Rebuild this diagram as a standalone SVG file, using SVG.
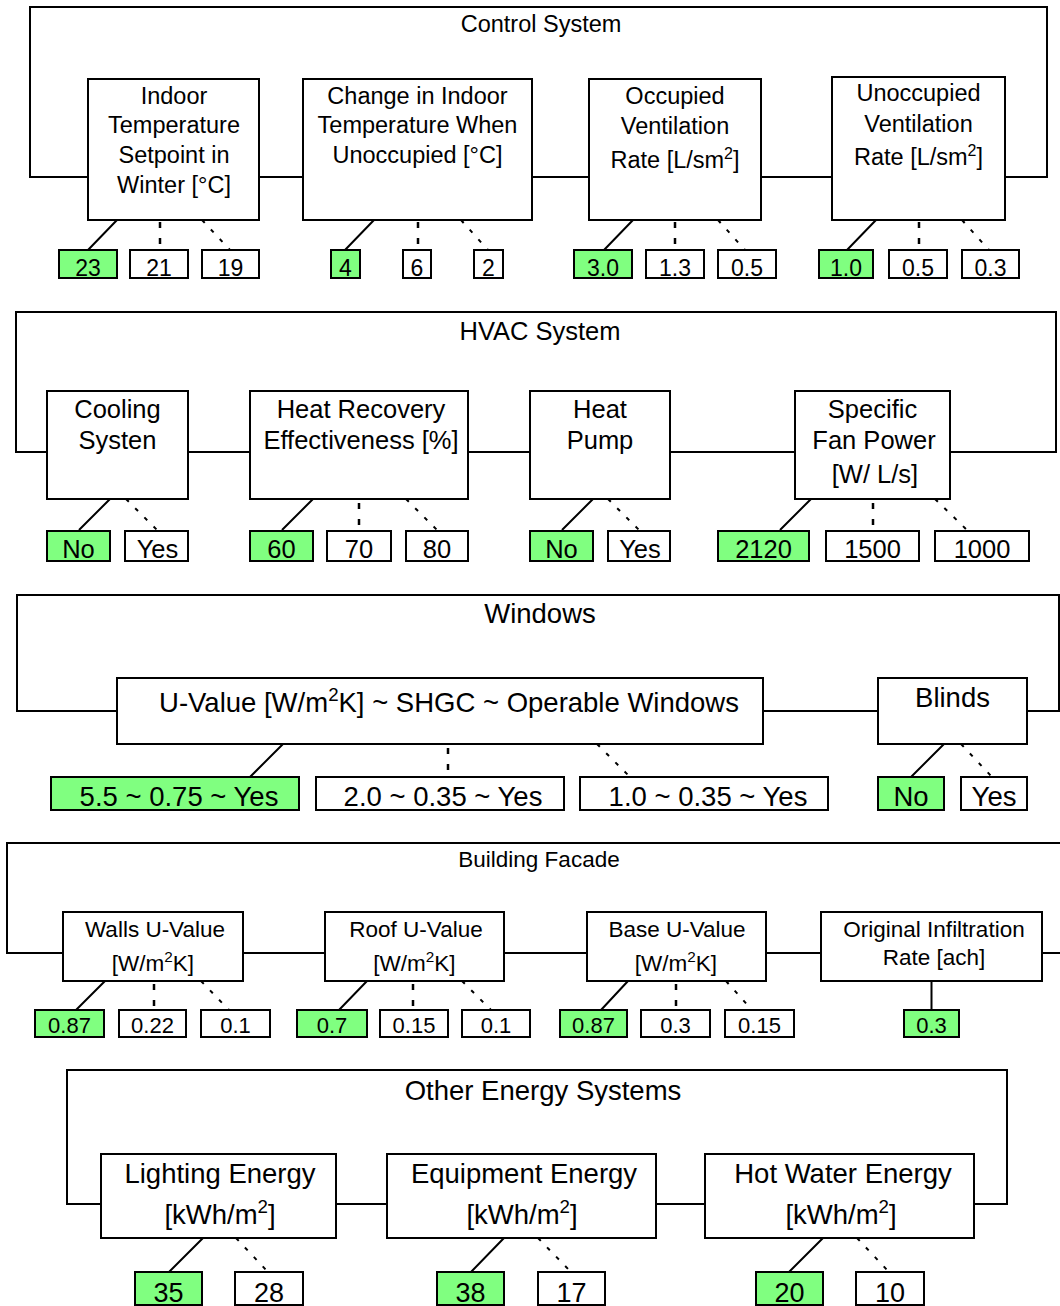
<svg xmlns="http://www.w3.org/2000/svg" width="1060" height="1306" viewBox="0 0 1060 1306">
<style>
.bg{fill:#fff}
.box{fill:#fff;stroke:#000;stroke-width:2}
.sel{fill:#80ff80;stroke:#000;stroke-width:2}
.opt{fill:#fff;stroke:#000;stroke-width:2}
.frame{fill:none;stroke:#000;stroke-width:2}
.solid{fill:none;stroke:#000;stroke-width:2}
.dash{fill:none;stroke:#000;stroke-width:2.5;stroke-dasharray:6 10}
.dot{fill:none;stroke:#000;stroke-width:2;stroke-dasharray:4 9}
.sup{font-size:68%}
text{font-family:"Liberation Sans",Arial,sans-serif;fill:#000;text-anchor:middle}
.t1{font-size:23.5px}
.v1{font-size:23px}
.t2{font-size:25.5px}
.v2{font-size:25.5px}
.t3{font-size:27.5px}
.v3{font-size:27.5px}
.t4{font-size:22.5px}
.v4{font-size:22px}
.t5{font-size:27.5px}
.v5{font-size:27px}
</style>
<rect class="bg" x="0" y="0" width="1060" height="1306"/>

<g id="connectors">
  <!-- Control System -->
  <path class="frame" d="M88,177 H30 V7 H1047 V177 H1005 M259,177 H303 M532,177 H589 M761,177 H832"/>
  <path class="solid" d="M117,220 L88,250 M374,220 L345,250 M633,220 L604,250 M876,220 L847,250"/>
  <path class="dash" d="M160,222 V250 M418,222 V250 M675,222 V250 M919,222 V250"/>
  <path class="dot" d="M202,220 L230,250 M461,220 L488,250 M718,220 L745,250 M962,220 L989,250"/>
  <!-- HVAC -->
  <path class="frame" d="M47,452 H16 V312 H1056 V452 H950 M188,452 H250 M468,452 H530 M670,452 H795"/>
  <path class="solid" d="M110,499 L79,530 M313,499 L282,530 M593,499 L562,530 M811,499 L780,530"/>
  <path class="dash" d="M359,503 V530 M873,503 V530"/>
  <path class="dot" d="M126,499 L157,530 M406,499 L437,530 M608,499 L639,530 M935,499 L967,530"/>
  <!-- Windows -->
  <path class="frame" d="M117,711 H17 V595 H1059 V711 H1027 M763,711 H878"/>
  <path class="solid" d="M283,744 L250,777 M944,744 L911,777"/>
  <path class="dash" d="M448,748 V777"/>
  <path class="dot" d="M597,744 L630,777 M961,744 L992,777"/>
  <!-- Building Facade -->
  <path class="frame" d="M63,953 H7 V843 H1062 V953 H1042 M243,953 H325 M504,953 H587 M766,953 H821"/>
  <path class="solid" d="M105,981 L76,1010 M367,981 L339,1010 M628,981 L601,1010 M931.5,981 V1010"/>
  <path class="dash" d="M154,984 V1010 M413,984 V1010 M676,984 V1010"/>
  <path class="dot" d="M201,981 L229,1010 M462,981 L491,1010 M726,981 L752,1010"/>
  <!-- Other Energy Systems -->
  <path class="frame" d="M101,1204 H67 V1070 H1007 V1204 H974 M336,1204 H387 M656,1204 H705"/>
  <path class="solid" d="M203,1238 L169,1272 M504,1238 L471,1272 M823,1238 L789,1272"/>
  <path class="dot" d="M236,1238 L268,1272 M538,1238 L571,1272 M857,1238 L889,1272"/>
</g>

<!-- Titles -->
<g id="title-control"><text class="t1" x="541" y="32">Control System</text></g>
<g id="title-hvac"><text class="t2" x="540" y="340">HVAC System</text></g>
<g id="title-windows"><text class="t3" x="540" y="623">Windows</text></g>
<g id="title-facade"><text class="t4" x="539" y="867">Building Facade</text></g>
<g id="title-other"><text class="t5" x="543" y="1100">Other Energy Systems</text></g>

<!-- Control System nodes -->
<g id="n-indoor-setpoint">
  <rect class="box" x="88" y="79" width="171" height="141"/>
  <text class="t1" x="174" y="104">Indoor</text>
  <text class="t1" x="174" y="133">Temperature</text>
  <text class="t1" x="174" y="163">Setpoint in</text>
  <text class="t1" x="174" y="193">Winter [°C]</text>
</g>
<g id="n-change-unoccupied">
  <rect class="box" x="303" y="79" width="229" height="141"/>
  <text class="t1" x="417.5" y="104">Change in Indoor</text>
  <text class="t1" x="417.5" y="133">Temperature When</text>
  <text class="t1" x="417.5" y="163">Unoccupied [°C]</text>
</g>
<g id="n-occupied-vent">
  <rect class="box" x="589" y="79" width="172" height="141"/>
  <text class="t1" x="675" y="104">Occupied</text>
  <text class="t1" x="675" y="134">Ventilation</text>
  <text class="t1" x="675" y="168">Rate [L/sm<tspan class="sup" dy="-9">2</tspan><tspan dy="9">]</tspan></text>
</g>
<g id="n-unoccupied-vent">
  <rect class="box" x="832" y="77" width="173" height="143"/>
  <text class="t1" x="918.5" y="101">Unoccupied</text>
  <text class="t1" x="918.5" y="132">Ventilation</text>
  <text class="t1" x="918.5" y="165">Rate [L/sm<tspan class="sup" dy="-9">2</tspan><tspan dy="9">]</tspan></text>
</g>
<g id="v-23"><rect class="sel" x="59" y="250" width="58" height="28"/><text class="v1" x="88" y="276">23</text></g>
<g id="v-21"><rect class="opt" x="130" y="250" width="58" height="28"/><text class="v1" x="159" y="276">21</text></g>
<g id="v-19"><rect class="opt" x="202" y="250" width="57" height="28"/><text class="v1" x="230.5" y="276">19</text></g>
<g id="v-4"><rect class="sel" x="331" y="250" width="29" height="28"/><text class="v1" x="345.5" y="276">4</text></g>
<g id="v-6"><rect class="opt" x="403" y="250" width="28" height="28"/><text class="v1" x="417" y="276">6</text></g>
<g id="v-2"><rect class="opt" x="474" y="250" width="29" height="28"/><text class="v1" x="488.5" y="276">2</text></g>
<g id="v-3.0"><rect class="sel" x="574" y="250" width="58" height="28"/><text class="v1" x="603" y="276">3.0</text></g>
<g id="v-1.3"><rect class="opt" x="646" y="250" width="58" height="28"/><text class="v1" x="675" y="276">1.3</text></g>
<g id="v-0.5a"><rect class="opt" x="718" y="250" width="58" height="28"/><text class="v1" x="747" y="276">0.5</text></g>
<g id="v-1.0"><rect class="sel" x="819" y="250" width="54" height="28"/><text class="v1" x="846" y="276">1.0</text></g>
<g id="v-0.5b"><rect class="opt" x="889" y="250" width="58" height="28"/><text class="v1" x="918" y="276">0.5</text></g>
<g id="v-0.3a"><rect class="opt" x="962" y="250" width="57" height="28"/><text class="v1" x="990.5" y="276">0.3</text></g>

<!-- HVAC nodes -->
<g id="n-cooling">
  <rect class="box" x="47" y="391" width="141" height="108"/>
  <text class="t2" x="117.5" y="418">Cooling</text>
  <text class="t2" x="117.5" y="449">Systen</text>
</g>
<g id="n-heat-recovery">
  <rect class="box" x="250" y="391" width="218" height="108"/>
  <text class="t2" x="361" y="418">Heat Recovery</text>
  <text class="t2" x="361" y="449">Effectiveness [%]</text>
</g>
<g id="n-heat-pump">
  <rect class="box" x="530" y="391" width="140" height="108"/>
  <text class="t2" x="600" y="418">Heat</text>
  <text class="t2" x="600" y="449">Pump</text>
</g>
<g id="n-sfp">
  <rect class="box" x="795" y="391" width="155" height="108"/>
  <text class="t2" x="872.5" y="418">Specific</text>
  <text class="t2" x="874" y="449">Fan Power</text>
  <text class="t2" x="875" y="483">[W/ L/s]</text>
</g>
<g id="v-cool-no"><rect class="sel" x="47" y="531" width="63" height="30"/><text class="v2" x="78.5" y="558">No</text></g>
<g id="v-cool-yes"><rect class="opt" x="125" y="531" width="63" height="30"/><text class="v2" x="157.5" y="558">Yes</text></g>
<g id="v-60"><rect class="sel" x="250" y="531" width="63" height="30"/><text class="v2" x="281.5" y="558">60</text></g>
<g id="v-70"><rect class="opt" x="327" y="531" width="64" height="30"/><text class="v2" x="359" y="558">70</text></g>
<g id="v-80"><rect class="opt" x="406" y="531" width="62" height="30"/><text class="v2" x="437" y="558">80</text></g>
<g id="v-hp-no"><rect class="sel" x="530" y="531" width="63" height="30"/><text class="v2" x="561.5" y="558">No</text></g>
<g id="v-hp-yes"><rect class="opt" x="608" y="531" width="62" height="30"/><text class="v2" x="640" y="558">Yes</text></g>
<g id="v-2120"><rect class="sel" x="718" y="531" width="91" height="30"/><text class="v2" x="763.5" y="558">2120</text></g>
<g id="v-1500"><rect class="opt" x="826" y="531" width="93" height="30"/><text class="v2" x="872.5" y="558">1500</text></g>
<g id="v-1000"><rect class="opt" x="935" y="531" width="94" height="30"/><text class="v2" x="982" y="558">1000</text></g>

<!-- Windows nodes -->
<g id="n-uvalue">
  <rect class="box" x="117" y="678" width="646" height="66"/>
  <text class="t3" x="449" y="712">U-Value [W/m<tspan class="sup" dy="-11">2</tspan><tspan dy="11">K] ~ SHGC ~ Operable Windows</tspan></text>
</g>
<g id="n-blinds">
  <rect class="box" x="878" y="678" width="149" height="66"/>
  <text class="t3" x="952.5" y="707">Blinds</text>
</g>
<g id="v-w1"><rect class="sel" x="51" y="777" width="248" height="33"/><text class="v3" x="179" y="806">5.5 ~ 0.75 ~ Yes</text></g>
<g id="v-w2"><rect class="opt" x="316" y="777" width="248" height="33"/><text class="v3" x="443" y="806">2.0 ~ 0.35 ~ Yes</text></g>
<g id="v-w3"><rect class="opt" x="580" y="777" width="248" height="33"/><text class="v3" x="708" y="806">1.0 ~ 0.35 ~ Yes</text></g>
<g id="v-bl-no"><rect class="sel" x="878" y="777" width="66" height="33"/><text class="v3" x="911" y="806">No</text></g>
<g id="v-bl-yes"><rect class="opt" x="961" y="777" width="66" height="33"/><text class="v3" x="994" y="806">Yes</text></g>

<!-- Building Facade nodes -->
<g id="n-walls">
  <rect class="box" x="63" y="912" width="180" height="69"/>
  <text class="t4" x="155" y="937">Walls U-Value</text>
  <text class="t4" x="153" y="971">[W/m<tspan class="sup" dy="-9">2</tspan><tspan dy="9">K]</tspan></text>
</g>
<g id="n-roof">
  <rect class="box" x="325" y="912" width="179" height="69"/>
  <text class="t4" x="416" y="937">Roof U-Value</text>
  <text class="t4" x="414.5" y="971">[W/m<tspan class="sup" dy="-9">2</tspan><tspan dy="9">K]</tspan></text>
</g>
<g id="n-base">
  <rect class="box" x="587" y="912" width="179" height="69"/>
  <text class="t4" x="677" y="937">Base U-Value</text>
  <text class="t4" x="676" y="971">[W/m<tspan class="sup" dy="-9">2</tspan><tspan dy="9">K]</tspan></text>
</g>
<g id="n-infiltration">
  <rect class="box" x="821" y="912" width="221" height="69"/>
  <text class="t4" x="934" y="937">Original Infiltration</text>
  <text class="t4" x="934" y="965">Rate [ach]</text>
</g>
<g id="v-0.87a"><rect class="sel" x="35" y="1010" width="69" height="27"/><text class="v4" x="69.5" y="1033">0.87</text></g>
<g id="v-0.22"><rect class="opt" x="119" y="1010" width="67" height="27"/><text class="v4" x="152.5" y="1033">0.22</text></g>
<g id="v-0.1a"><rect class="opt" x="201" y="1010" width="69" height="27"/><text class="v4" x="235.5" y="1033">0.1</text></g>
<g id="v-0.7"><rect class="sel" x="297" y="1010" width="70" height="27"/><text class="v4" x="332" y="1033">0.7</text></g>
<g id="v-0.15a"><rect class="opt" x="380" y="1010" width="68" height="27"/><text class="v4" x="414" y="1033">0.15</text></g>
<g id="v-0.1b"><rect class="opt" x="462" y="1010" width="68" height="27"/><text class="v4" x="496" y="1033">0.1</text></g>
<g id="v-0.87b"><rect class="sel" x="560" y="1010" width="67" height="27"/><text class="v4" x="593.5" y="1033">0.87</text></g>
<g id="v-0.3b"><rect class="opt" x="641" y="1010" width="69" height="27"/><text class="v4" x="675.5" y="1033">0.3</text></g>
<g id="v-0.15b"><rect class="opt" x="725" y="1010" width="69" height="27"/><text class="v4" x="759.5" y="1033">0.15</text></g>
<g id="v-0.3c"><rect class="sel" x="904" y="1010" width="55" height="27"/><text class="v4" x="931.5" y="1033">0.3</text></g>

<!-- Other Energy nodes -->
<g id="n-lighting">
  <rect class="box" x="101" y="1154" width="235" height="84"/>
  <text class="t5" x="220" y="1183">Lighting Energy</text>
  <text class="t5" x="220" y="1224">[kWh/m<tspan class="sup" dy="-11">2</tspan><tspan dy="11">]</tspan></text>
</g>
<g id="n-equipment">
  <rect class="box" x="387" y="1154" width="269" height="84"/>
  <text class="t5" x="524" y="1183">Equipment Energy</text>
  <text class="t5" x="522" y="1224">[kWh/m<tspan class="sup" dy="-11">2</tspan><tspan dy="11">]</tspan></text>
</g>
<g id="n-hotwater">
  <rect class="box" x="705" y="1154" width="269" height="84"/>
  <text class="t5" x="843" y="1183">Hot Water Energy</text>
  <text class="t5" x="841" y="1224">[kWh/m<tspan class="sup" dy="-11">2</tspan><tspan dy="11">]</tspan></text>
</g>
<g id="v-35"><rect class="sel" x="135" y="1272" width="67" height="33"/><text class="v5" x="168.5" y="1302">35</text></g>
<g id="v-28"><rect class="opt" x="235" y="1272" width="68" height="33"/><text class="v5" x="269" y="1302">28</text></g>
<g id="v-38"><rect class="sel" x="437" y="1272" width="67" height="33"/><text class="v5" x="470.5" y="1302">38</text></g>
<g id="v-17"><rect class="opt" x="538" y="1272" width="67" height="33"/><text class="v5" x="571.5" y="1302">17</text></g>
<g id="v-20"><rect class="sel" x="756" y="1272" width="67" height="33"/><text class="v5" x="789.5" y="1302">20</text></g>
<g id="v-10"><rect class="opt" x="856" y="1272" width="68" height="33"/><text class="v5" x="890" y="1302">10</text></g>
</svg>
